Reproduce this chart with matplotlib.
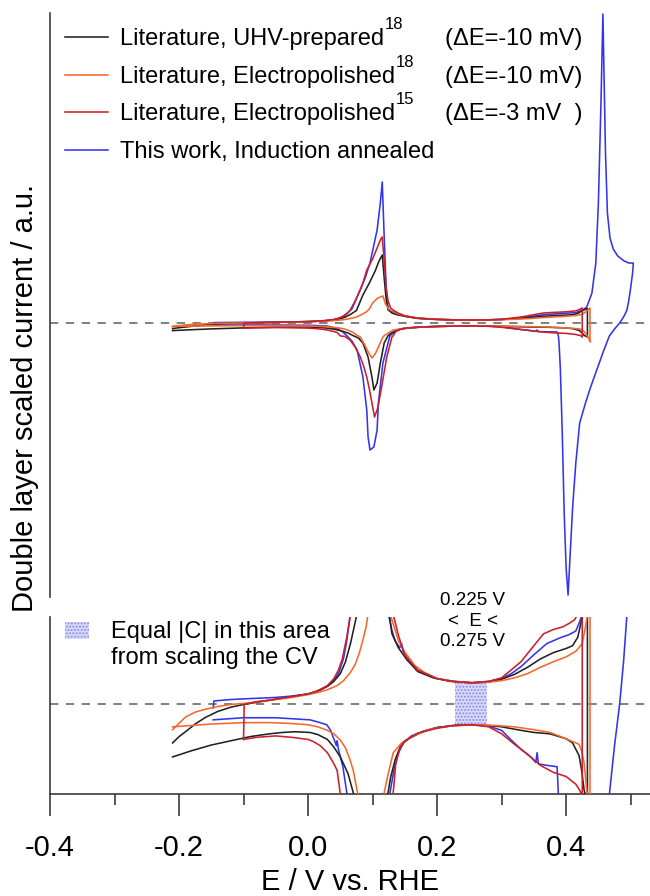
import matplotlib
matplotlib.use("Agg")
import matplotlib.pyplot as plt
from matplotlib.ticker import MultipleLocator, FormatStrFormatter

plt.rcParams['font.family'] = ['Liberation Sans', 'DejaVu Sans']
plt.rcParams['axes.unicode_minus'] = False
plt.rcParams['hatch.linewidth'] = 1.0

# ---- CV data (E / V vs RHE, double-layer scaled current / a.u.) ----
# UHV-prepared (ref 18): anodic sweep, then cathodic sweep
E_uhv_an = [-0.210, -0.200, -0.190, -0.175, -0.160, -0.140, -0.120, -0.100, -0.080, -0.060,
            -0.040, -0.020, 0.000, 0.015, 0.030, 0.040, 0.050, 0.058, 0.066, 0.075,
            0.085, 0.095, 0.104, 0.110, 0.115, 0.118, 0.121, 0.124, 0.130, 0.140,
            0.153, 0.170, 0.194, 0.220, 0.254, 0.280, 0.300, 0.320, 0.340, 0.360,
            0.380, 0.400, 0.410, 0.418, 0.425, 0.433]
I_uhv_an = [-5.6, -4.7, -4.0, -2.9, -2.0, -1.1, -0.5, -0.1, 0.2, 0.5,
            0.8, 1.1, 1.4, 1.8, 2.5, 3.2, 4.3, 6.0, 8.7, 12.5,
            28, 40, 52, 62, 68, 45, 24, 14, 10, 8.0,
            6.3, 4.6, 3.7, 3.2, 3.0, 3.1, 3.5, 4.2, 5.2, 6.4,
            7.3, 7.9, 8.3, 9.5, 12.4, 14.5]
E_uhv_ca = [0.433, 0.428, 0.424, 0.420, 0.410, 0.400, 0.375, 0.350, 0.330, 0.300,
            0.280, 0.254, 0.230, 0.200, 0.180, 0.160, 0.150, 0.143, 0.135, 0.128,
            0.124, 0.118, 0.112, 0.107, 0.102, 0.099, 0.093, 0.085, 0.078, 0.070,
            0.062, 0.050, 0.040, 0.030, 0.015, 0.003, -0.020, -0.039, -0.060, -0.090,
            -0.120, -0.150, -0.180, -0.210]
I_uhv_ca = [-14, -12.4, -9.5, -7.4, -5.6, -5.0, -4.3, -4.1, -3.8, -3.3,
            -3.1, -3.0, -3.1, -3.4, -3.9, -4.8, -5.4, -6.1, -8.0, -10.5,
            -12.7, -20, -40, -60, -67, -54, -34, -20, -15, -12.7,
            -10, -7.6, -6.2, -5.1, -4.4, -4.1, -4.0, -4.1, -4.3, -4.7,
            -5.3, -5.9, -6.7, -7.6]

# Electropolished (ref 18)
E_ep18_an = [-0.210, -0.200, -0.190, -0.175, -0.160, -0.140, -0.120, -0.093, -0.070, -0.050,
             -0.025, 0.000, 0.015, 0.030, 0.045, 0.055, 0.065, 0.073, 0.080, 0.086,
             0.090, 0.095, 0.100, 0.108, 0.116, 0.120, 0.125, 0.130, 0.140, 0.150,
             0.165, 0.180, 0.200, 0.225, 0.254, 0.280, 0.300, 0.320, 0.340, 0.360,
             0.380, 0.400, 0.415, 0.425, 0.430, 0.437]
I_ep18_an = [-3.7, -2.8, -1.9, -1.2, -0.8, -0.4, -0.1, 0.1, 0.4, 0.6,
             0.9, 1.3, 1.6, 2.0, 2.6, 3.3, 4.4, 5.6, 7.4, 9.5,
             11, 14, 20, 25, 27, 19, 14, 12, 9, 7.4,
             5.5, 4.5, 3.6, 3.2, 3.0, 3.1, 3.3, 3.7, 4.3, 5.2,
             6.0, 6.7, 7.5, 8.6, 11, 15]
E_ep18_ca = [0.437, 0.435, 0.432, 0.428, 0.424, 0.420, 0.400, 0.375, 0.350, 0.320,
             0.290, 0.254, 0.220, 0.190, 0.165, 0.145, 0.132, 0.123, 0.118, 0.116,
             0.109, 0.104, 0.099, 0.094, 0.088, 0.081, 0.076, 0.070, 0.065, 0.058,
             0.050, 0.040, 0.030, 0.015, 0.000, -0.030, -0.060, -0.100, -0.150, -0.180,
             -0.210]
I_ep18_ca = [-19, -15, -12.4, -8.5, -6.7, -5.8, -5.0, -4.1, -3.7, -3.3,
             -3.1, -3.0, -3.2, -3.6, -4.5, -5.6, -7.0, -10.5, -12.7, -14,
             -24, -31, -35, -30, -22, -14, -12.4, -9.5, -8.0, -6.3,
             -5.2, -4.3, -3.8, -3.3, -3.0, -2.8, -2.7, -2.7, -2.9, -3.1,
             -3.3]

# Electropolished (ref 15)
E_ep15_an = [-0.100, -0.099, -0.080, -0.060, -0.040, -0.020, 0.000, 0.010, 0.020, 0.030,
             0.040, 0.047, 0.053, 0.060, 0.068, 0.076, 0.085, 0.091, 0.100, 0.107,
             0.112, 0.115, 0.118, 0.121, 0.124, 0.128, 0.133, 0.140, 0.150, 0.170,
             0.200, 0.225, 0.254, 0.280, 0.300, 0.330, 0.350, 0.365, 0.380, 0.395,
             0.405, 0.413, 0.418, 0.422, 0.425]
I_ep15_an = [-5.1, -0.1, 0.3, 0.5, 0.8, 1.1, 1.4, 1.7, 2.1, 2.6,
             3.6, 4.8, 6.4, 9.5, 14, 26, 40, 53, 64, 75,
             83, 86, 62, 35, 22, 15, 12.4, 9.8, 6.9, 4.8,
             3.6, 3.2, 3.0, 3.2, 3.7, 6.0, 8.3, 10.0, 10.6, 11.0,
             11.5, 12.0, 12.8, 14, 15]
E_ep15_ca = [0.425, 0.422, 0.415, 0.400, 0.380, 0.360, 0.340, 0.320, 0.300, 0.280,
             0.254, 0.225, 0.200, 0.170, 0.150, 0.143, 0.136, 0.132, 0.130, 0.122,
             0.114, 0.108, 0.103, 0.099, 0.095, 0.091, 0.086, 0.081, 0.073, 0.065,
             0.057, 0.050, 0.045, 0.039, 0.030, 0.019, 0.008, 0.000, -0.025, -0.050,
             -0.080, -0.100]
I_ep15_ca = [-14, -12.5, -11.5, -10.4, -9.8, -8.8, -7.2, -5.8, -4.3, -3.3,
             -3.0, -3.1, -3.5, -4.2, -5.3, -6.2, -8.5, -12.7, -14, -34,
             -64, -85, -94, -80, -66, -54, -43, -34, -24, -17,
             -13.5, -12.9, -9.5, -8.4, -7.0, -6.0, -5.4, -5.1, -4.8, -4.6,
             -4.8, -5.1]

# This work, induction annealed
E_ia_an = [-0.147, -0.146, -0.120, -0.100, -0.075, -0.050, -0.025, 0.000, 0.015, 0.030,
           0.040, 0.048, 0.055, 0.060, 0.065, 0.073, 0.081, 0.089, 0.096, 0.102,
           0.107, 0.112, 0.115, 0.118, 0.121, 0.124, 0.130, 0.135, 0.142, 0.145,
           0.147, 0.155, 0.170, 0.200, 0.225, 0.254, 0.280, 0.300, 0.315, 0.330,
           0.350, 0.370, 0.390, 0.405, 0.415, 0.420, 0.426, 0.432, 0.440, 0.446,
           0.450, 0.454, 0.457, 0.459, 0.461, 0.464, 0.468, 0.473, 0.480, 0.490,
           0.497, 0.504]
I_ia_an = [-0.6, 0.4, 0.6, 0.7, 0.8, 0.9, 1.1, 1.4, 1.8, 2.5,
           3.3, 4.5, 6.5, 9, 12.5, 22, 33, 46, 60, 78,
           93, 120, 141, 86, 36, 13, 10.5, 9.0, 8.0, 8.6,
           7.6, 6.4, 4.8, 3.6, 3.2, 3.0, 3.2, 3.6, 4.3, 5.3,
           7.0, 8.6, 9.4, 9.9, 10.4, 11.5, 13, 16, 30, 60,
           120, 220, 309, 240, 170, 110, 85, 74, 67, 62,
           60, 60]
E_ia_ca = [0.504, 0.503, 0.500, 0.497, 0.494, 0.489, 0.483, 0.475, 0.467, 0.458,
           0.448, 0.438, 0.430, 0.421, 0.415, 0.410, 0.406, 0.403, 0.400, 0.397,
           0.394, 0.391, 0.389, 0.388, 0.386, 0.370, 0.357, 0.355, 0.353, 0.345,
           0.330, 0.315, 0.300, 0.280, 0.254, 0.225, 0.200, 0.180, 0.160, 0.148,
           0.140, 0.133, 0.127, 0.124, 0.116, 0.109, 0.107, 0.102, 0.096, 0.093,
           0.091, 0.085, 0.076, 0.068, 0.060, 0.054, 0.047, 0.045, 0.044, 0.035,
           0.029, 0.015, 0.003, -0.050, -0.100, -0.147]
I_ia_ca = [58, 50, 35, 22, 12.4, 6, 0, -6, -13, -28,
           -46, -64, -80, -100, -140, -185, -235, -272, -245, -190,
           -110, -45, -20, -13, -9.0, -8.8, -8.6, -7.0, -8.4, -7.6,
           -6.5, -5.2, -3.8, -3.2, -3.0, -3.1, -3.4, -3.9, -4.6, -5.6,
           -7.0, -9.5, -12.7, -20, -40, -80, -107, -124, -127, -114,
           -87, -54, -27, -18, -12.7, -9.0, -6.5, -5.3, -6.0, -3.8,
           -3.0, -2.6, -2.3, -2.0, -2.0, -2.3]

labels = ['Literature, UHV-prepared',
          'Literature, Electropolished',
          'Literature, Electropolished',
          'This work, Induction annealed']
ref_labels = ['18', '18', '15']
dE_labels = ['(\u0394E=-10 mV)', '(\u0394E=-10 mV)', '(\u0394E=-3 mV  )']
colors = ['#222222', '#f4692b', '#cc1f2c', '#3434ec']

# equal-capacitance window used for scaling
shade_E = [0.228, 0.278]
shade_lo = [-2.9, -2.9]
shade_hi = [3.1, 3.1]

series = [(E_uhv_an + E_uhv_ca, I_uhv_an + I_uhv_ca),
          (E_ep18_an + E_ep18_ca, I_ep18_an + I_ep18_ca),
          (E_ep15_an + E_ep15_ca, I_ep15_an + I_ep15_ca),
          (E_ia_an + E_ia_ca, I_ia_an + I_ia_ca)]

W, H = 650, 896
fig = plt.figure(figsize=(W / 100, H / 100), dpi=100)
ax1 = fig.add_axes([50 / W, 1 - 597 / H, 600 / W, 584 / H])
ax2 = fig.add_axes([50 / W, 1 - 794 / H, 600 / W, 177 / H])

zorders = [3, 4, 5, 2]
handles = []
for ax in (ax1, ax2):
    ax.axhline(0, color='#6a6a6a', lw=1.2, ls=(0, (5, 4.5)), zorder=1)
    hs = []
    for (E, I), c, z in zip(series, colors, zorders):
        ln, = ax.plot(E, I, color=c, lw=1.15, zorder=z)
        hs.append(ln)
    if ax is ax1:
        handles = hs
    ax.set_xlim(-0.4, 0.53)
    for s in ('top', 'right', 'bottom'):
        ax.spines[s].set_visible(False)
    ax.spines['left'].set_color('#3c3c3c')
    ax.spines['left'].set_linewidth(1.2)
    ax.set_yticks([])

ax1.set_ylim(-274, 310)
ax1.set_xticks([])
ax2.set_ylim(-12.9, 12.4)

shade = ax2.fill_between(shade_E, shade_lo, shade_hi, facecolor='#dadafa',
                         edgecolor='#8c8ce6', hatch='.....', linewidth=0, zorder=1.5)

ax2.spines['bottom'].set_visible(True)
ax2.spines['bottom'].set_color('#3c3c3c')
ax2.spines['bottom'].set_linewidth(1.2)
ax2.xaxis.set_major_locator(MultipleLocator(0.2))
ax2.xaxis.set_minor_locator(MultipleLocator(0.1))
ax2.xaxis.set_major_formatter(FormatStrFormatter('%.1f'))
ax2.tick_params(axis='x', which='major', direction='out', length=16, width=1.2,
                color='#3c3c3c', pad=13, labelsize=21)
ax2.tick_params(axis='x', which='minor', direction='out', length=8, width=1.2,
                color='#3c3c3c')

leg = ax1.legend(handles, labels, loc='upper left', bbox_to_anchor=(15 / 600, 0.974),
                 frameon=False, fontsize=17, handlelength=1.82, handletextpad=0.5,
                 labelspacing=0.66, borderpad=0, borderaxespad=0)

leg2 = ax2.legend([shade], ['Equal |C| in this area'], loc='upper left',
                  bbox_to_anchor=(15 / 600, 0.975), frameon=False, fontsize=17,
                  handlelength=1.0, handleheight=0.72, handletextpad=0.93,
                  borderpad=0, borderaxespad=0)

fig.text(473 / W, 1 - 621 / H, '0.225 V\n<  E <\n0.275 V', ha='center', va='center',
         fontsize=13.5, linespacing=1.25)

fig.text(350 / W, 1 - 882 / H, 'E / V vs. RHE', ha='center', va='center', fontsize=21)
fig.text(25 / W, 1 - 398 / H, 'Double layer scaled current / a.u.', rotation=90,
         ha='center', va='center', fontsize=21)

# reference superscripts, sweep offsets and the second line of the area note
fig.canvas.draw()
for t, r, s in zip(leg.get_texts()[:3], ref_labels, dE_labels):
    bb = t.get_window_extent()
    fig.text((bb.x1 + 1) / W, (bb.y1 + 11) / H, r, ha='left', va='top', fontsize=12)
    fig.text(445 / W, bb.y0 / H, s, ha='left', va='bottom', fontsize=17)
bb2 = leg2.get_texts()[0].get_window_extent()
fig.text(bb2.x0 / W, (bb2.y0 - 26) / H, 'from scaling the CV', ha='left', va='bottom',
         fontsize=17)

fig.savefig('out.png', dpi=100)
